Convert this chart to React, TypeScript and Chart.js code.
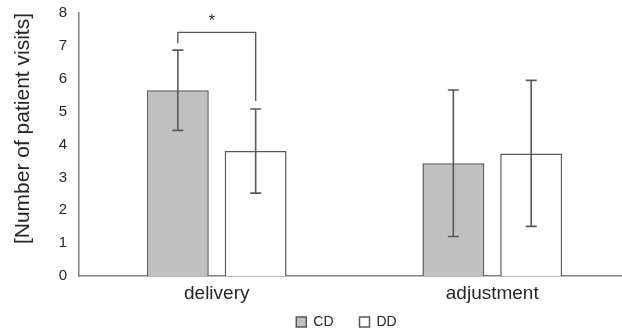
import React, { useEffect, useRef } from "react";
import { Chart, registerables } from "chart.js";

Chart.register(...registerables);

const categories = ["delivery", "adjustment"];
const seriesNames = ["CD", "DD"];
const cdValues = [5.65, 3.43];
const ddValues = [3.8, 3.73];
const cdErrors = [1.22, 2.23];
const ddErrors = [1.28, 2.22];
const yTicks = [0, 1, 2, 3, 4, 5, 6, 7, 8];
// significance bracket between CD and DD for "delivery"
const bracketCategory = 0;
const bracketTop = 7.41;
const bracketLeftEnd = 7.08;
const bracketRightEnd = 5.32;
const bracketLabel = "*";

const errors = [cdErrors, ddErrors];
const LINE = "#595959";
const TEXT = "#262626";
const FONT = "'Liberation Sans', Arial, sans-serif";

const errorBarPlugin = {
  id: "errorBars",
  afterDatasetsDraw(chart: any) {
    const ctx = chart.ctx;
    const y = chart.scales.y;
    ctx.save();
    ctx.strokeStyle = LINE;
    ctx.lineWidth = 1.6;
    chart.data.datasets.forEach((ds: any, di: number) => {
      const meta = chart.getDatasetMeta(di);
      meta.data.forEach((bar: any, i: number) => {
        const v = ds.data[i];
        const e = errors[di][i];
        const x = bar.x;
        const yt = y.getPixelForValue(v + e);
        const yb = y.getPixelForValue(v - e);
        ctx.beginPath();
        ctx.moveTo(x, yt);
        ctx.lineTo(x, yb);
        ctx.moveTo(x - 5.5, yt);
        ctx.lineTo(x + 5.5, yt);
        ctx.moveTo(x - 5.5, yb);
        ctx.lineTo(x + 5.5, yb);
        ctx.stroke();
      });
    });
    // bracket
    const x1 = chart.getDatasetMeta(0).data[bracketCategory].x;
    const x2 = chart.getDatasetMeta(1).data[bracketCategory].x;
    const yTop = y.getPixelForValue(bracketTop);
    ctx.lineWidth = 1.4;
    ctx.beginPath();
    ctx.moveTo(x1, y.getPixelForValue(bracketLeftEnd));
    ctx.lineTo(x1, yTop);
    ctx.lineTo(x2, yTop);
    ctx.lineTo(x2, y.getPixelForValue(bracketRightEnd));
    ctx.stroke();
    ctx.fillStyle = TEXT;
    ctx.font = `16px ${FONT}`;
    ctx.textAlign = "center";
    ctx.textBaseline = "middle";
    ctx.fillText(bracketLabel, (x1 + x2) / 2 - 5, yTop - 11);
    ctx.restore();
  },
};

// nudge the legend to where it sits in the reference
const legendShiftPlugin = {
  id: "legendShift",
  afterLayout(chart: any) {
    const lg = chart.legend;
    if (lg) {
      lg.left -= 8;
      lg.right -= 8;
      lg.top -= 17;
    }
  },
};

export default function App() {
  const ref = useRef<HTMLCanvasElement | null>(null);
  useEffect(() => {
    if (!ref.current) return;
    const chart = new Chart(ref.current, {
      type: "bar",
      data: {
        labels: categories,
        datasets: [
          {
            label: seriesNames[0],
            data: cdValues,
            backgroundColor: "#c0c0c0",
            borderColor: LINE,
            borderWidth: 1.5,
            categoryPercentage: 0.565,
            barPercentage: 0.795,
          },
          {
            label: seriesNames[1],
            data: ddValues,
            backgroundColor: "#ffffff",
            borderColor: LINE,
            borderWidth: 1.5,
            categoryPercentage: 0.565,
            barPercentage: 0.795,
          },
        ],
      },
      options: {
        responsive: false,
        animation: false,
        layout: { padding: { top: 13, right: 2, left: 0, bottom: 0 } },
        plugins: {
          tooltip: { enabled: false },
          legend: {
            position: "bottom",
            fullSize: false,
            maxHeight: 27,
            labels: {
              boxWidth: 10,
              boxHeight: 10,
              padding: 26,
              color: TEXT,
              font: { family: FONT, size: 14 },
            },
          },
        },
        scales: {
          x: {
            grid: { display: false, drawTicks: false },
            border: { display: true, color: "#7f7f7f", width: 1.5 },
            ticks: { color: TEXT, font: { family: FONT, size: 19 }, padding: 6 },
            afterFit: (s: any) => {
              s.height = 30;
            },
          },
          y: {
            min: 0,
            max: 8,
            afterBuildTicks: (s: any) => {
              s.ticks = yTicks.map((v) => ({ value: v }));
            },
            grid: { display: false, drawTicks: false },
            border: { display: true, color: "#7f7f7f", width: 1.5 },
            ticks: { color: TEXT, font: { family: FONT, size: 15 }, padding: 12 },
            title: {
              display: true,
              text: "[Number of patient visits]",
              align: "end",
              color: TEXT,
              font: { family: FONT, size: 21 },
              padding: { top: 11, bottom: 0 },
            },
            afterFit: (s: any) => {
              s.width = 79;
              s.paddingTop = 9;
              s.paddingBottom = 9;
            },
          },
        },
      },
      plugins: [errorBarPlugin, legendShiftPlugin],
    });
    return () => chart.destroy();
  }, []);
  return (
    <div
      style={{
        position: "fixed",
        left: 0,
        top: 0,
        width: 622,
        height: 333,
        overflow: "hidden",
        background: "#fff",
      }}
    >
      <canvas ref={ref} width={632} height={333} style={{ display: "block" }} />
    </div>
  );
}
